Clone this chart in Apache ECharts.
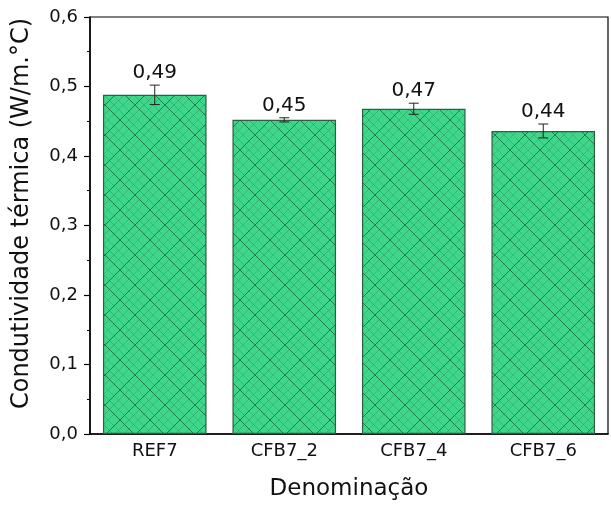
<!DOCTYPE html>
<html>
<head>
<meta charset="utf-8">
<script src="https://cdn.jsdelivr.net/npm/echarts@6/dist/echarts.min.js"></script>
<style>html,body{margin:0;padding:0;background:#fff}#c{width:611px;height:506px}</style>
</head>
<body>
<div id="c"></div>
<script>
var categories = ['REF7', 'CFB7_2', 'CFB7_4', 'CFB7_6'];
var values = [0.488, 0.452, 0.468, 0.436];
var errors = [0.014, 0.003, 0.008, 0.010];
var yTicks = [0, 0.1, 0.2, 0.3, 0.4, 0.5, 0.6];

function fmt(v) { return v.toFixed(2).replace('.', ','); }

// hatch pattern tile
var tile = document.createElement('canvas');
var S = 30;
tile.width = S; tile.height = S;
var g = tile.getContext('2d');
g.fillStyle = '#3dd68a';
g.fillRect(0, 0, S, S);
function diag(off, color, w) {
  g.strokeStyle = color; g.lineWidth = w;
  for (var k = -1; k <= 1; k++) {
    g.beginPath(); g.moveTo(off + k * S, 0); g.lineTo(off + k * S + S, S); g.stroke();
    g.beginPath(); g.moveTo(off + k * S + S, 0); g.lineTo(off + k * S, S); g.stroke();
  }
}
diag(0, 'rgba(20,95,50,0.75)', 1);
diag(9, 'rgba(30,120,60,0.35)', 1);
diag(18, 'rgba(30,120,60,0.25)', 1);

var chart = echarts.init(document.getElementById('c'));
chart.setOption({
  animation: false,
  grid: { left: 90, right: 3, top: 17, bottom: 72, show: true, borderColor: '#000', borderWidth: 1.2, backgroundColor: 'transparent' },
  xAxis: {
    type: 'category', data: categories,
    name: 'Denominação', nameLocation: 'middle', nameGap: 44,
    nameTextStyle: { fontFamily: 'DejaVu Sans', fontSize: 23, color: '#111' },
    axisLine: { lineStyle: { color: '#000', width: 1.5 } },
    axisTick: { show: false },
    axisLabel: { fontFamily: 'DejaVu Sans', fontSize: 18, color: '#111', margin: 8 }
  },
  yAxis: {
    type: 'value', min: 0, max: 0.6, interval: 0.1,
    name: 'Condutividade térmica (W/m.°C)', nameLocation: 'middle', nameGap: 56,
    nameTextStyle: { fontFamily: 'DejaVu Sans', fontSize: 24, color: '#111', padding: [0, 0, 0, 24] },
    axisLine: { show: true, lineStyle: { color: '#000', width: 1.5 } },
    axisTick: { show: true, length: 6, lineStyle: { color: '#000', width: 1.2 } },
    minorTick: { show: true, splitNumber: 2, length: 3, lineStyle: { color: '#000', width: 1 } },
    splitLine: { show: false },
    axisLabel: { fontFamily: 'DejaVu Sans', fontSize: 18, color: '#111', margin: 12,
      formatter: function (v) { return v.toFixed(1).replace('.', ','); } }
  },
  series: [
    {
      type: 'bar', data: values, barCategoryGap: '20%',
      itemStyle: { color: { image: tile, repeat: 'repeat' }, borderColor: '#2f5e40', borderWidth: 1.2 }
    },
    {
      type: 'custom',
      data: values.map(function (v, i) { return [i, v, errors[i]]; }),
      renderItem: function (params, api) {
        var i = api.value(0), v = api.value(1), e = api.value(2);
        var top = api.coord([i, v + e]);
        var bot = api.coord([i, v - e]);
        var hw = 5;
        var st = { stroke: '#222', lineWidth: 1 };
        return {
          type: 'group',
          children: [
            { type: 'line', shape: { x1: top[0], y1: top[1], x2: bot[0], y2: bot[1] }, style: st },
            { type: 'line', shape: { x1: top[0] - hw, y1: top[1], x2: top[0] + hw, y2: top[1] }, style: st },
            { type: 'line', shape: { x1: bot[0] - hw, y1: bot[1], x2: bot[0] + hw, y2: bot[1] }, style: st },
            { type: 'text', style: { x: top[0], y: top[1] - 2, text: fmt(v), textAlign: 'center', textVerticalAlign: 'bottom',
              fontFamily: 'DejaVu Sans', fontSize: 20, fill: '#111' } }
          ]
        };
      },
      z: 10
    }
  ]
});
</script>
</body>
</html>
